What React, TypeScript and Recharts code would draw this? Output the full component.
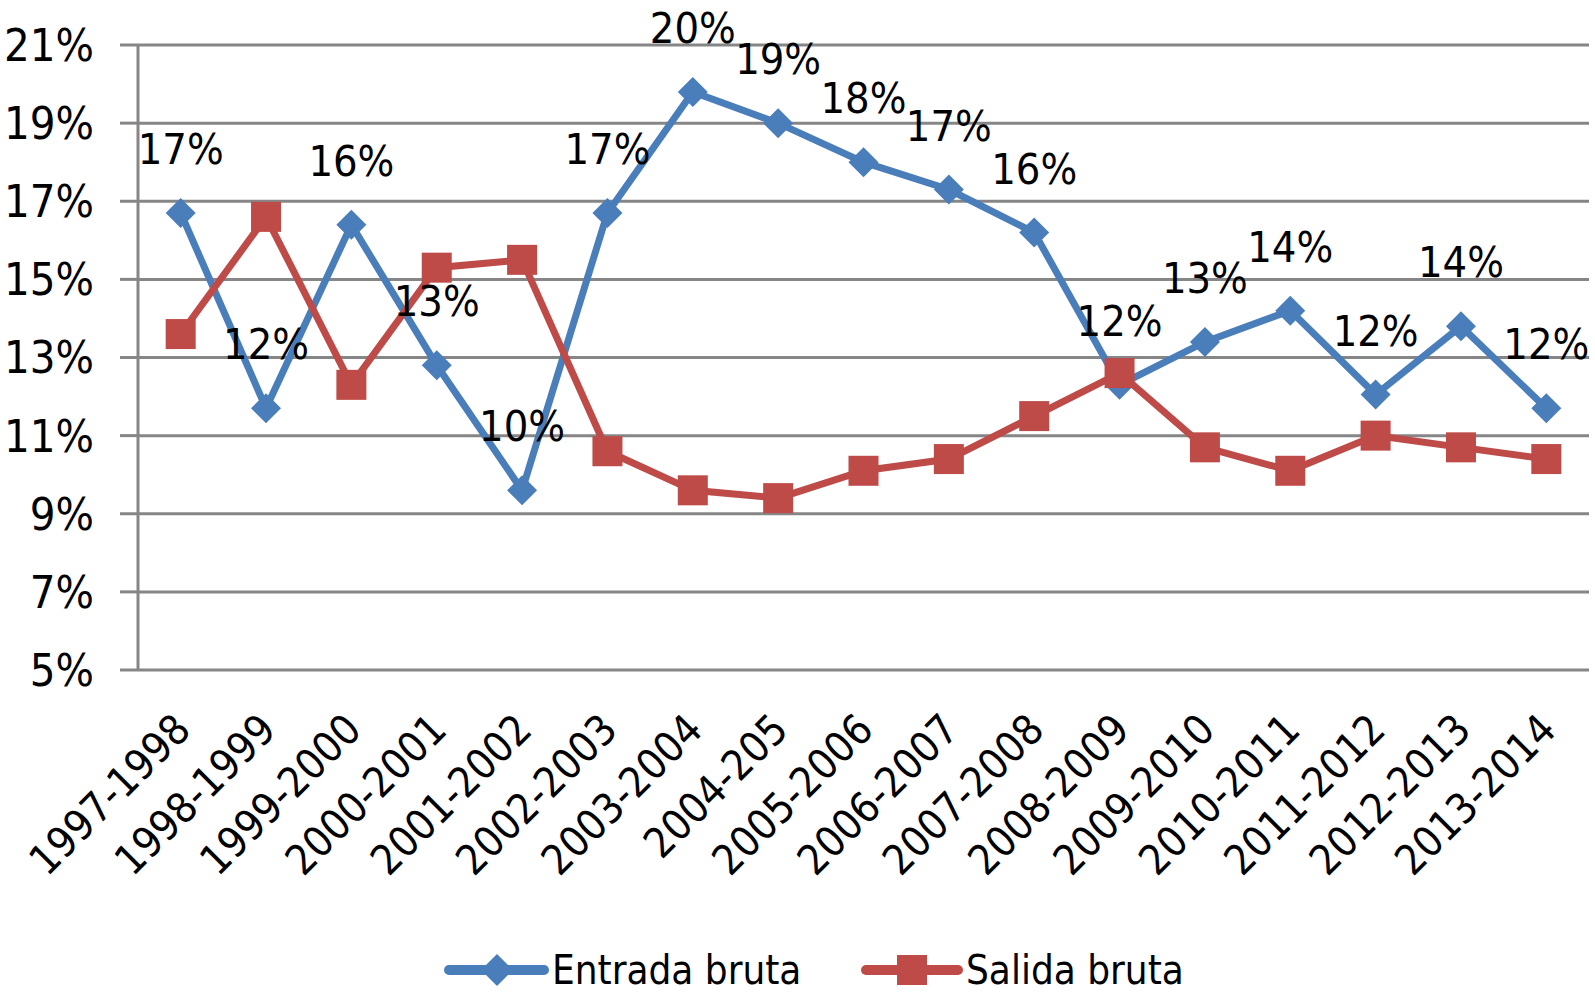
import { CartesianGrid, LabelList, Line, LineChart, XAxis, YAxis } from "recharts";

const CATEGORIES = [
  "1997-1998", "1998-1999", "1999-2000", "2000-2001", "2001-2002", "2002-2003",
  "2003-2004", "2004-205", "2005-2006", "2006-2007", "2007-2008", "2008-2009",
  "2009-2010", "2010-2011", "2011-2012", "2012-2013", "2013-2014",
];
const ENTRADA = [16.7, 11.7, 16.4, 12.8, 9.6, 16.7, 19.8, 19.0, 18.0, 17.3, 16.2, 12.3, 13.4, 14.2, 12.05, 13.8, 11.7];
const SALIDA = [13.6, 16.6, 12.3, 15.3, 15.5, 10.6, 9.6, 9.4, 10.1, 10.4, 11.5, 12.6, 10.7, 10.1, 11.0, 10.7, 10.4];
const Y_TICKS = [5, 7, 9, 11, 13, 15, 17, 19, 21];

const BLUE = "#4A7EBB";
const RED = "#BE4B48";
const GRID = "#868686";
const FONT = "'DejaVu Sans Condensed', 'DejaVu Sans', sans-serif";

const data = CATEGORIES.map((periodo, i) => ({ idx: i, periodo, entrada: ENTRADA[i], salida: SALIDA[i] }));
const BOUNDARIES = CATEGORIES.map((_, i) => i - 0.5).concat(CATEGORIES.length - 0.5);
const CENTERS = CATEGORIES.map((_, i) => i);

function Diamond({ cx, cy }: any) {
  if (cx == null || cy == null) return null;
  const r = 15;
  return <polygon points={`${cx},${cy - r} ${cx + r},${cy} ${cx},${cy + r} ${cx - r},${cy}`} fill={BLUE} />;
}

function Square({ cx, cy }: any) {
  if (cx == null || cy == null) return null;
  const s = 30;
  return <rect x={cx - s / 2} y={cy - s / 2} width={s} height={s} fill={RED} />;
}

function PctLabel({ x, y, value }: any) {
  return (
    <text x={x} y={y - 49} textAnchor="middle" fontSize={43} fontFamily={FONT} fill="#000">
      {`${Math.round(value)}%`}
    </text>
  );
}

function XTick({ x, y, payload }: any) {
  const ax = x + 12;
  const ay = y + 54;
  return (
    <text x={ax} y={ay} transform={`rotate(-45, ${ax}, ${ay})`} textAnchor="end" fontSize={42} fontFamily={FONT} fill="#000">
      {CATEGORIES[payload.value]}
    </text>
  );
}

function Legend() {
  return (
    <svg width={1595} height={992} style={{ position: "absolute", left: 0, top: 0, pointerEvents: "none" }}>
      <line x1={449} x2={544} y1={970} y2={970} stroke={BLUE} strokeWidth={10} strokeLinecap="round" />
      <polygon points="497,954 513,970 497,986 481,970" fill={BLUE} />
      <text x={552} y={984} fontSize={40} fontFamily={FONT} fill="#000">Entrada bruta</text>
      <line x1={866} x2={958} y1={970} y2={970} stroke={RED} strokeWidth={10} strokeLinecap="round" />
      <rect x={897} y={955} width={30} height={30} fill={RED} />
      <text x={966} y={984} fontSize={40} fontFamily={FONT} fill="#000">Salida bruta</text>
    </svg>
  );
}

export default function App() {
  return (
    <div style={{ position: "absolute", left: 0, top: 0, width: 1595, height: 992, background: "#fff" }}>
      <LineChart width={1595} height={992} data={data} margin={{ top: 45, right: 6, left: 0, bottom: 0 }}>
        <CartesianGrid xAxisId="pos" vertical={false} stroke={GRID} strokeWidth={3} />
        <XAxis
          xAxisId="pos"
          type="number"
          dataKey="idx"
          domain={[-0.5, CATEGORIES.length - 0.5]}
          ticks={BOUNDARIES}
          tick={false}
          tickSize={14}
          height={0}
          axisLine={{ stroke: GRID, strokeWidth: 3 }}
          tickLine={{ stroke: GRID, strokeWidth: 3 }}
        />
        <XAxis
          xAxisId="lab"
          type="number"
          dataKey="idx"
          domain={[-0.5, CATEGORIES.length - 0.5]}
          ticks={CENTERS}
          interval={0}
          tick={<XTick />}
          tickLine={false}
          axisLine={false}
          height={322}
        />
        <YAxis
          domain={[5, 21]}
          ticks={Y_TICKS}
          interval={0}
          width={138}
          tickSize={18}
          tickMargin={26}
          tickFormatter={(v: number) => `${v}%`}
          tick={{ fontSize: 45, fontFamily: FONT, fill: "#000" }}
          axisLine={{ stroke: GRID, strokeWidth: 3 }}
          tickLine={{ stroke: GRID, strokeWidth: 3 }}
        />
        <Line xAxisId="pos" dataKey="entrada" stroke={BLUE} strokeWidth={7} dot={<Diamond />} activeDot={false} isAnimationActive={false} />
        <Line xAxisId="pos" dataKey="salida" stroke={RED} strokeWidth={7} dot={<Square />} activeDot={false} isAnimationActive={false} />
        <Line xAxisId="pos" dataKey="entrada" stroke="none" dot={false} activeDot={false} legendType="none" isAnimationActive={false}>
          <LabelList dataKey="entrada" content={<PctLabel />} />
        </Line>
      </LineChart>
      <Legend />
    </div>
  );
}
